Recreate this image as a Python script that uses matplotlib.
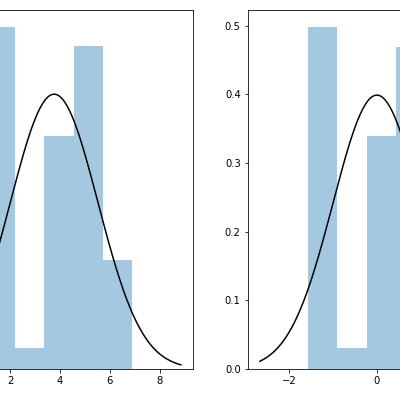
import numpy as np
import matplotlib
matplotlib.use("Agg")
import matplotlib.pyplot as plt

# left panel: raw values (histogram density + fitted normal)
left_edges = [1.0, 2.18, 3.36, 4.54, 5.72, 6.9]
left_density = [0.282, 0.017, 0.192, 0.266, 0.090]
left_fit = {"mean": 3.76, "sd": 1.76, "lo": -0.94, "hi": 8.85}
left_xticks = [2, 4, 6, 8]

# right panel: standardized values
right_edges = [-1.57, -0.90, -0.23, 0.44, 1.11, 1.79]
right_density = [0.498, 0.030, 0.339, 0.469, 0.160]
right_fit = {"mean": 0.0, "sd": 1.0, "lo": -2.67, "hi": 2.89}
right_xticks = [-2, 0]
right_yticks = [0.0, 0.1, 0.2, 0.3, 0.4, 0.5]

hist_color = "#1f77b4"


def draw(ax, edges, dens, fit):
    edges = np.asarray(edges)
    ax.bar(edges[:-1], dens, width=np.diff(edges), align="edge",
           color=hist_color, alpha=0.4, linewidth=0)
    xs = np.linspace(fit["lo"], fit["hi"], 200)
    pdf = np.exp(-0.5 * ((xs - fit["mean"]) / fit["sd"]) ** 2) / (fit["sd"] * np.sqrt(2 * np.pi))
    ax.plot(xs, pdf, color="black", lw=1.5)


fig = plt.figure(figsize=(400 / 72, 400 / 72), dpi=72)
ax1 = fig.add_axes([-75 / 400, 31 / 400, 268 / 400, 359 / 400])
ax2 = fig.add_axes([247.7 / 400, 31 / 400, 268 / 400, 359 / 400])

draw(ax1, left_edges, left_density, left_fit)
draw(ax2, right_edges, right_density, right_fit)

# the crop hides the left panel's y axis, keep only what shows
ax1.set_xticks(left_xticks)
ax1.set_yticks([])
ax2.set_xticks(right_xticks)
ax2.set_yticks(right_yticks)

fig.savefig("out.png", dpi=72)
